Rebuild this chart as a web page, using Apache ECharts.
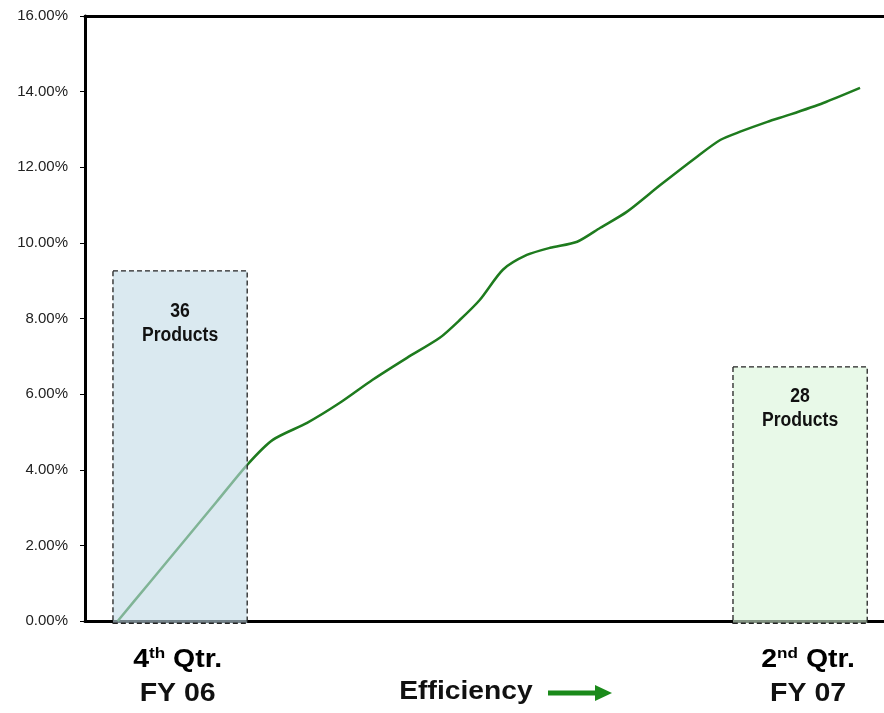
<!DOCTYPE html>
<html>
<head>
<meta charset="utf-8">
<script src="https://cdn.jsdelivr.net/npm/echarts@6/dist/echarts.min.js"></script>
<style>html,body{margin:0;padding:0;background:#fff}#c{width:884px;height:713px}</style>
</head>
<body>
<div id="c"></div>
<script>
// Efficiency progress (x = progress index 0..100, y = percent)
const lineX = [4.1, 8.1, 12.3, 16.5, 20.3, 23.5, 27.8, 31.9, 36.0, 40.3, 44.4, 46.9, 49.4, 52.3, 55.3, 58.2, 61.6, 64.5, 67.8, 72.0, 76.6, 79.5, 82.0, 85.4, 88.2, 92.4, 97.0];
const lineY = [0.0, 1.02, 2.09, 3.16, 4.13, 4.79, 5.24, 5.77, 6.38, 6.96, 7.49, 7.96, 8.49, 9.29, 9.68, 9.87, 10.03, 10.40, 10.82, 11.53, 12.28, 12.72, 12.94, 13.20, 13.39, 13.70, 14.10];
const yTicks = [0, 2, 4, 6, 8, 10, 12, 14, 16];
const boxStart = [3.5, 81.1];
const boxEnd = [20.3, 97.9];
const boxTop = [9.26, 6.72];
const boxBottom = [-0.06, -0.06];
const boxLabelY = [7.86, 5.62];
const boxCount = ['36', '28'];
const boxProducts = ['Products', 'Products'];
const periodX = [11.6, 90.5];
const periodLabels = [['4', 'th', ' Qtr.', 'FY 06'], ['2', 'nd', ' Qtr.', 'FY 07']];
const boxFills = ['rgba(193,219,230,0.6)', 'rgba(217,245,217,0.6)'];

const chart = echarts.init(document.getElementById('c'), null, {renderer: 'canvas'});
const boxData = boxStart.map((s, i) => [s, boxEnd[i], boxTop[i], boxBottom[i], boxLabelY[i], i]);
const boxFont = 'bold 20px "Liberation Sans Narrow", "Arial Narrow", "Liberation Sans", sans-serif';

const option = {
  animation: false,
  backgroundColor: '#ffffff',
  grid: {left: 85, top: 16, right: 0, bottom: 92, containLabel: false},
  xAxis: [
    {type: 'value', min: 0, max: 100, position: 'bottom',
     axisLine: {show: true, onZero: false, lineStyle: {color: '#000', width: 3}},
     axisTick: {show: false}, axisLabel: {show: false}, splitLine: {show: false}},
    {type: 'value', min: 0, max: 100, position: 'top',
     axisLine: {show: true, onZero: false, lineStyle: {color: '#000', width: 3}},
     axisTick: {show: false}, axisLabel: {show: false}, splitLine: {show: false}}
  ],
  yAxis: {
    type: 'value', min: yTicks[0], max: yTicks[yTicks.length - 1], interval: 2,
    axisLine: {show: true, lineStyle: {color: '#000', width: 3}},
    axisTick: {show: true, length: 5, lineStyle: {color: '#000', width: 1}},
    axisLabel: {margin: 17, color: '#222', fontSize: 15, fontFamily: 'Liberation Sans, Arial, sans-serif',
      formatter: v => v.toFixed(2) + '%'},
    splitLine: {show: false}
  },
  series: [
    {
      type: 'line', xAxisIndex: 0, z: 2,
      data: lineX.map((x, i) => [x, lineY[i]]),
      smooth: 0.25, showSymbol: false, symbol: 'none',
      lineStyle: {color: '#1e7b1e', width: 2.5}
    },
    {
      type: 'custom', xAxisIndex: 0, z: 5, clip: false,
      data: boxData,
      renderItem: function (params, api) {
        const i = api.value(5);
        const p0 = api.coord([api.value(0), api.value(2)]);
        const p1 = api.coord([api.value(1), api.value(3)]);
        const pl = api.coord([(api.value(0) + api.value(1)) / 2, api.value(4)]);
        return {
          type: 'group',
          children: [
            {type: 'rect', shape: {x: p0[0], y: p0[1], width: p1[0] - p0[0], height: p1[1] - p0[1]},
             style: {fill: boxFills[i], stroke: '#222', lineWidth: 1.3, lineDash: [5, 3]}},
            {type: 'text', x: pl[0], y: pl[1] - 12, scaleX: 0.88,
             style: {text: boxCount[i], textAlign: 'center', textVerticalAlign: 'middle', font: boxFont, fill: '#111'}},
            {type: 'text', x: pl[0], y: pl[1] + 12, scaleX: 0.88,
             style: {text: boxProducts[i], textAlign: 'center', textVerticalAlign: 'middle', font: boxFont, fill: '#111'}}
          ]
        };
      }
    }
  ]
};
chart.setOption(option);

// Bottom period labels, positioned via the axis scale
const rich = {
  a: {fontSize: 25, fontWeight: 'bold', fontFamily: 'Liberation Sans, Arial, sans-serif', color: '#111', lineHeight: 28},
  s: {fontSize: 15, fontWeight: 'bold', fontFamily: 'Liberation Sans, Arial, sans-serif', color: '#111', verticalAlign: 'top', lineHeight: 28}
};
const graphics = [];
periodLabels.forEach((lab, i) => {
  const cx = chart.convertToPixel({xAxisIndex: 0}, periodX[i]);
  graphics.push({type: 'text', x: cx, y: 660, scaleX: 1.14, style: {
    text: '{a|' + lab[0] + '}{s|' + lab[1] + '}{a|' + lab[2] + '}', rich: rich,
    textAlign: 'center', textVerticalAlign: 'middle'}});
  graphics.push({type: 'text', x: cx, y: 694, scaleX: 1.14, style: {
    text: lab[3], textAlign: 'center', textVerticalAlign: 'middle',
    font: 'bold 25px "Liberation Sans", Arial, sans-serif', fill: '#111'}});
});
graphics.push({type: 'text', x: 466, y: 692, scaleX: 1.13, style: {
  text: 'Efficiency', textAlign: 'center', textVerticalAlign: 'middle',
  font: 'bold 25px "Liberation Sans", Arial, sans-serif', fill: '#111'}});
graphics.push({type: 'line', shape: {x1: 548, y1: 693, x2: 598, y2: 693}, style: {stroke: '#1a8a1a', lineWidth: 5}});
graphics.push({type: 'polygon', shape: {points: [[595, 685], [612, 693], [595, 701]]}, style: {fill: '#1a8a1a'}});
chart.setOption({graphic: graphics});
</script>
</body>
</html>
